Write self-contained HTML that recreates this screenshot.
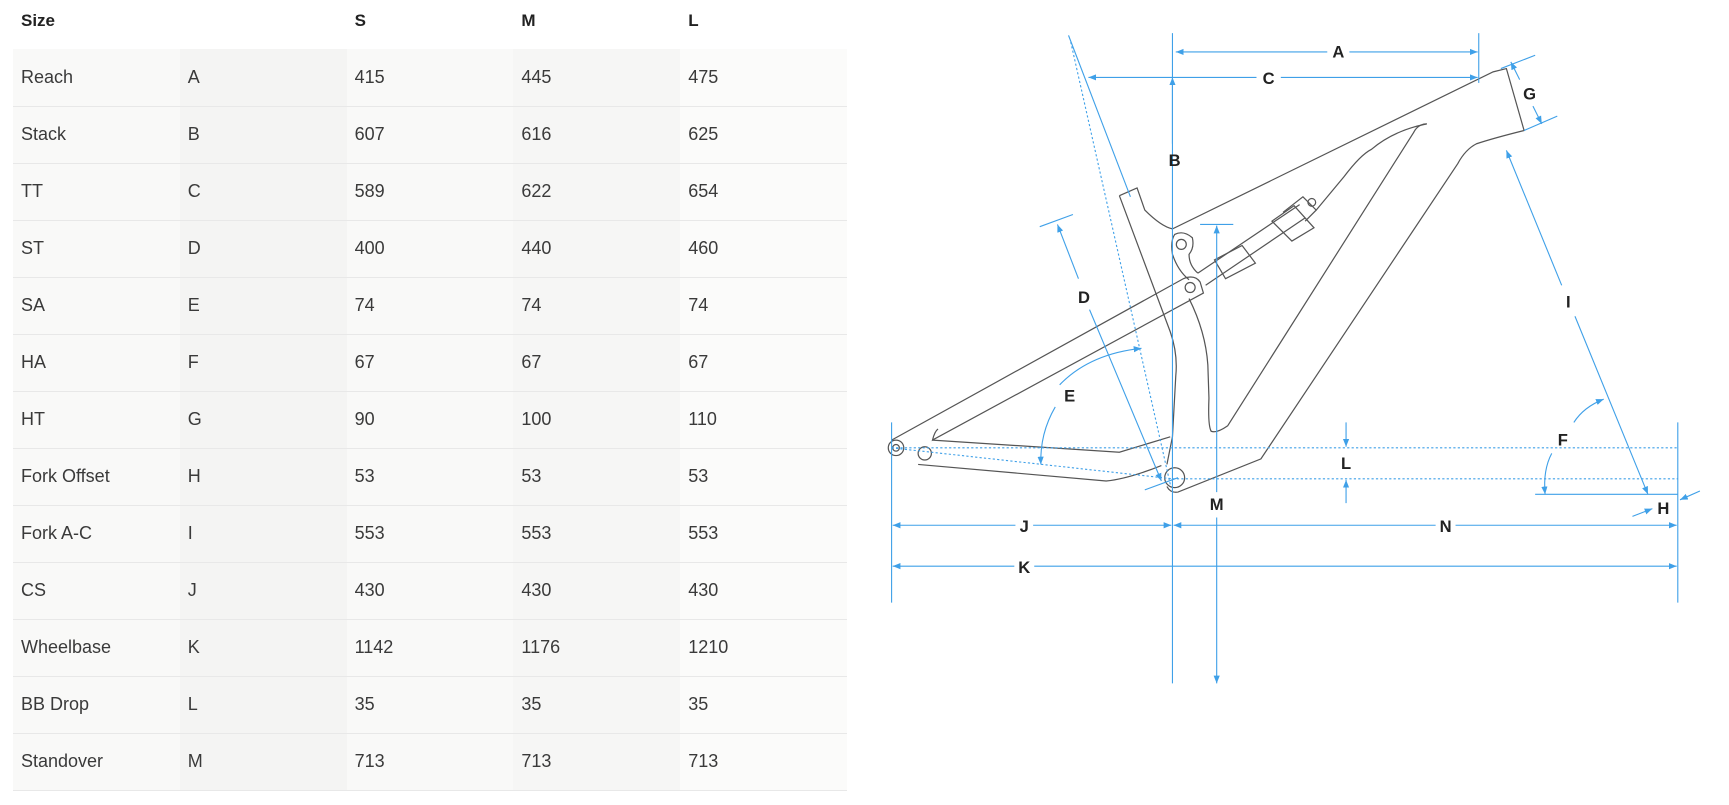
<!DOCTYPE html>
<html><head><meta charset="utf-8"><style>
body{margin:0;width:1729px;height:805px;background:#fff;overflow:hidden;font-family:"Liberation Sans",sans-serif;position:relative}
table{position:absolute;left:13px;top:0;border-collapse:collapse;width:834px;table-layout:fixed}
td,th{box-sizing:border-box;height:57px;padding:0 0 0 8px;text-align:left;font-size:18px;color:#3a3a3a;font-weight:normal;border-bottom:1px solid #e8e8e8}
th{font-weight:bold;color:#222;height:49px;border:none;font-size:17px;vertical-align:top;padding-top:11px}
td:nth-child(1){background:#f9f9f8}td:nth-child(2){background:#f4f4f3}td:nth-child(3){background:#f9f9f8}td:nth-child(4){background:#f6f6f5}td:nth-child(5){background:#fbfbfa}
svg{position:absolute;left:0;top:0}
svg text{font-family:"Liberation Sans",sans-serif;font-weight:bold;font-size:15px;fill:#222;text-anchor:middle}
</style></head><body>
<table>
<tr><th>Size</th><th></th><th>S</th><th>M</th><th>L</th></tr>
<tr><td>Reach</td><td>A</td><td>415</td><td>445</td><td>475</td></tr>
<tr><td>Stack</td><td>B</td><td>607</td><td>616</td><td>625</td></tr>
<tr><td>TT</td><td>C</td><td>589</td><td>622</td><td>654</td></tr>
<tr><td>ST</td><td>D</td><td>400</td><td>440</td><td>460</td></tr>
<tr><td>SA</td><td>E</td><td>74</td><td>74</td><td>74</td></tr>
<tr><td>HA</td><td>F</td><td>67</td><td>67</td><td>67</td></tr>
<tr><td>HT</td><td>G</td><td>90</td><td>100</td><td>110</td></tr>
<tr><td>Fork Offset</td><td>H</td><td>53</td><td>53</td><td>53</td></tr>
<tr><td>Fork A-C</td><td>I</td><td>553</td><td>553</td><td>553</td></tr>
<tr><td>CS</td><td>J</td><td>430</td><td>430</td><td>430</td></tr>
<tr><td>Wheelbase</td><td>K</td><td>1142</td><td>1176</td><td>1210</td></tr>
<tr><td>BB Drop</td><td>L</td><td>35</td><td>35</td><td>35</td></tr>
<tr><td>Standover</td><td>M</td><td>713</td><td>713</td><td>713</td></tr>
</table>
<svg width="1729" height="805" viewBox="0 0 1563 728">
<defs><marker id="a" viewBox="0 0 10 10" refX="10" refY="5" markerWidth="7" markerHeight="7" orient="auto-start-reverse"><path d="M0,1 L10,5 L0,9z" fill="#3fa0e8"/></marker></defs>
<g stroke="#555" stroke-width="1.1" fill="none">
<path d="M1012,177 L1028,170 L1035,190 Q1050,205 1060,207 L1350,65 L1362,62 L1378,118 Q1350,125 1335,130 Q1325,135 1318,148 L1140,415 L1065,445 Q1058,446 1055,440"/>
<path d="M1012,177 L1058,300 Q1065,320 1063,340 L1060,395 L1055,420"/>
<path d="M1290,112 Q1282,112 1278,120 L1110,385 Q1100,392 1095,390 Q1092,385 1093,360 L1092,330 Q1090,300 1075,270"/>
<path d="M1290,112 Q1260,118 1240,135 Q1230,140 1215,160 L1190,190"/>
<path d="M1075,253 Q1065,245 1060,230 Q1058,218 1062,212 Q1070,208 1078,215 Q1080,224 1075,230 Q1075,240 1083,247"/>
<path d="M806,398 L1070,252 Q1080,248 1085,255 L1088,265 L843,398 Q845,390 848,388"/>
<path d="M843,398 L1012,409 L1058,395"/>
<path d="M830,420 L1000,435 Q1020,433 1050,421"/>
<path d="M1083,247 L1175,185 M1090,258 L1180,197"/>
<path d="M1098,235 L1123,222 L1135,238 L1108,252z"/>
<path d="M1150,200 L1170,186 L1188,206 L1168,218z"/>
<path d="M1160,192 L1178,178 L1190,190 L1180,200"/>
<circle cx="810" cy="405" r="7" fill="#fff"/><circle cx="810" cy="405" r="3"/>
<circle cx="836" cy="410" r="6" fill="#fff"/>
<circle cx="1062" cy="432" r="9"/>
<circle cx="1068" cy="221" r="4.5"/><circle cx="1076" cy="260" r="4.5"/><circle cx="1186" cy="183" r="3.5"/>
</g>
<g stroke="#3fa0e8" stroke-width="1" fill="none">
<line x1="1060" y1="30" x2="1060" y2="618"/>
<line x1="1060" y1="130" x2="1060" y2="70" marker-end="url(#a)"/>
<line x1="1337" y1="30" x2="1337" y2="75"/>
<line x1="1063" y1="47" x2="1200" y2="47" marker-start="url(#a)"/><line x1="1220" y1="47" x2="1336" y2="47" marker-end="url(#a)"/>
<line x1="984" y1="70" x2="1136" y2="70" marker-start="url(#a)"/><line x1="1158" y1="70" x2="1336" y2="70" marker-end="url(#a)"/>
<line x1="966" y1="32" x2="1022" y2="178"/>
<line x1="968" y1="38" x2="1058" y2="438" stroke-dasharray="2,2"/>
<line x1="940" y1="205" x2="970" y2="194"/><line x1="1035" y1="443" x2="1065" y2="432"/>
<line x1="956" y1="203" x2="975" y2="252" marker-start="url(#a)"/><line x1="985" y1="280" x2="1050" y2="435" marker-end="url(#a)"/>
<path d="M958,348 Q985,320 1032,315" marker-end="url(#a)"/><path d="M954,368 Q940,392 941,420" marker-end="url(#a)"/>
<line x1="1085" y1="203" x2="1115" y2="203"/>
<line x1="1100" y1="445" x2="1100" y2="204" marker-end="url(#a)"/><line x1="1100" y1="468" x2="1100" y2="618" marker-end="url(#a)"/>
<line x1="1217" y1="382" x2="1217" y2="404" marker-end="url(#a)"/><line x1="1217" y1="455" x2="1217" y2="434" marker-end="url(#a)"/>
<g stroke-dasharray="2,2"><line x1="806" y1="405" x2="1517" y2="405"/><line x1="1060" y1="433" x2="1517" y2="433"/><line x1="806" y1="405" x2="1060" y2="433"/></g>
<line x1="806" y1="382" x2="806" y2="545"/><line x1="1517" y1="382" x2="1517" y2="545"/>
<line x1="807" y1="475" x2="918" y2="475" marker-start="url(#a)"/><line x1="934" y1="475" x2="1059" y2="475" marker-end="url(#a)"/>
<line x1="1061" y1="475" x2="1298" y2="475" marker-start="url(#a)"/><line x1="1316" y1="475" x2="1516" y2="475" marker-end="url(#a)"/>
<line x1="807" y1="512" x2="917" y2="512" marker-start="url(#a)"/><line x1="935" y1="512" x2="1516" y2="512" marker-end="url(#a)"/>
<line x1="1357" y1="62" x2="1388" y2="50"/><line x1="1378" y1="118" x2="1408" y2="105"/>
<line x1="1374" y1="72" x2="1366" y2="56" marker-end="url(#a)"/><line x1="1386" y1="96" x2="1394" y2="112" marker-end="url(#a)"/>
<line x1="1412" y1="258" x2="1362" y2="136" marker-end="url(#a)"/><line x1="1424" y1="286" x2="1490" y2="447" marker-end="url(#a)"/>
<line x1="1388" y1="447" x2="1517" y2="447"/>
<path d="M1423,382 Q1432,368 1450,361" marker-end="url(#a)"/><path d="M1403,410 Q1395,425 1397,447" marker-end="url(#a)"/>
<line x1="1476" y1="467" x2="1494" y2="460" marker-end="url(#a)"/><line x1="1537" y1="444" x2="1519" y2="452" marker-end="url(#a)"/>
</g>
<text x="1210" y="52">A</text><text x="1147" y="76">C</text><text x="1062" y="150">B</text>
<text x="980" y="274">D</text><text x="967" y="363">E</text><text x="1100" y="461">M</text>
<text x="1217" y="424">L</text><text x="926" y="481">J</text><text x="1307" y="481">N</text>
<text x="926" y="518">K</text><text x="1383" y="90">G</text><text x="1418" y="278">I</text>
<text x="1413" y="403">F</text><text x="1504" y="465">H</text>
</svg>
</body></html>
